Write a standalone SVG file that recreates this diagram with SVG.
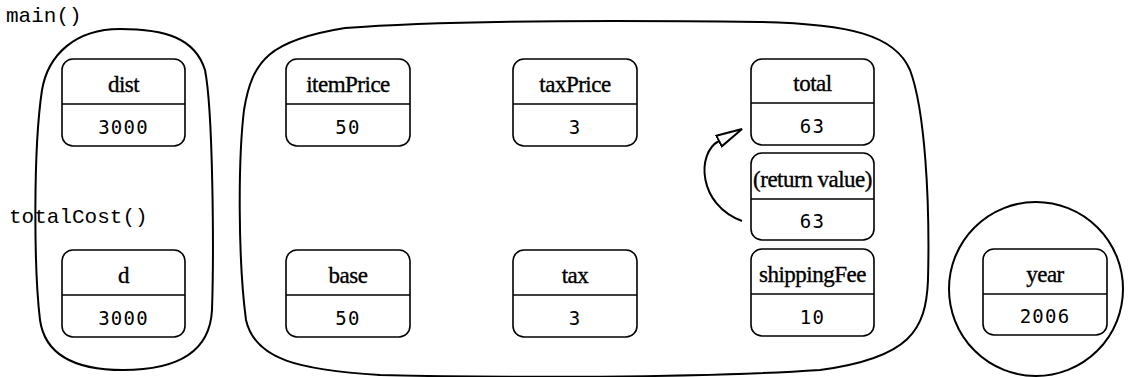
<svg xmlns="http://www.w3.org/2000/svg" width="1128" height="377" viewBox="0 0 1128 377">
  <style>
    .frame { fill: none; stroke: #000; stroke-width: 2; }
    .box { fill: #fff; stroke: #000; stroke-width: 1.6; }
    .div { stroke: #000; stroke-width: 1.6; }
    .name { font-family: "Liberation Serif", "Times New Roman", serif; font-size: 23px; text-anchor: middle; fill: #000; stroke: #000; stroke-width: 0.35px; letter-spacing: -0.5px; }
    .val { font-family: "DejaVu Sans Mono", monospace; font-size: 19px; text-anchor: middle; fill: #000; letter-spacing: 1.2px; }
    .fn { font-family: "Liberation Mono", "Courier New", monospace; font-size: 21px; fill: #000; }
    .conn { fill: none; stroke: #000; stroke-width: 2; }
  </style>
  <defs>
    <marker id="open-tri" viewBox="0 0 28 14" refX="1" refY="7" markerWidth="28" markerHeight="14" markerUnits="userSpaceOnUse" orient="auto">
      <path d="M1,1 L27,7 L1,13 Z" fill="#fff" stroke="#000" stroke-width="2" stroke-linejoin="miter"/>
    </marker>
  </defs>
  <rect width="1128" height="377" fill="#fff"/>

  <!-- scope outlines -->
  <g id="scope-main">
    <path class="frame" d="M 120 29 C 165 29 195 38 205 70 C 213 110 214 250 212 310 C 210 350 180 370 123 370 C 75 370 45 355 40 320 C 34 270 33 150 42 90 C 48 55 75 29 120 29 Z"/>
  </g>
  <g id="scope-totalCost">
    <path class="frame" d="M 345 28 C 450 20 600 20 760 22 C 850 24 895 35 910 70 C 925 110 930 200 928 280 C 926 330 910 358 820 370 C 700 378 500 378 380 375 C 300 370 255 360 246 320 C 238 260 238 160 244 110 C 252 60 270 40 345 28 Z"/>
  </g>
  <g id="scope-global">
    <circle class="frame" cx="1036" cy="289" r="87"/>
  </g>

  <!-- function labels -->
  <text class="fn" x="6" y="22">main()</text>
  <text class="fn" x="9" y="223">totalCost()</text>

  <!-- variables -->
  <g id="var-dist">
    <rect class="box" x="62" y="59" width="123" height="87" rx="11"/>
    <line class="div" x1="62" y1="104" x2="185" y2="104"/>
    <text class="name" x="123.5" y="92">dist</text>
    <text class="val" x="123.5" y="134">3000</text>
  </g>
  <g id="var-d">
    <rect class="box" x="62" y="250" width="123" height="87" rx="11"/>
    <line class="div" x1="62" y1="295" x2="185" y2="295"/>
    <text class="name" x="123.5" y="283">d</text>
    <text class="val" x="123.5" y="325">3000</text>
  </g>
  <g id="var-itemPrice">
    <rect class="box" x="286" y="59" width="124" height="87" rx="11"/>
    <line class="div" x1="286" y1="104" x2="410" y2="104"/>
    <text class="name" x="348" y="92">itemPrice</text>
    <text class="val" x="348" y="134">50</text>
  </g>
  <g id="var-base">
    <rect class="box" x="286" y="250" width="124" height="87" rx="11"/>
    <line class="div" x1="286" y1="295" x2="410" y2="295"/>
    <text class="name" x="348" y="283">base</text>
    <text class="val" x="348" y="325">50</text>
  </g>
  <g id="var-taxPrice">
    <rect class="box" x="513" y="59" width="124" height="87" rx="11"/>
    <line class="div" x1="513" y1="104" x2="637" y2="104"/>
    <text class="name" x="575" y="92">taxPrice</text>
    <text class="val" x="575" y="134">3</text>
  </g>
  <g id="var-tax">
    <rect class="box" x="513" y="250" width="124" height="87" rx="11"/>
    <line class="div" x1="513" y1="295" x2="637" y2="295"/>
    <text class="name" x="575" y="283">tax</text>
    <text class="val" x="575" y="325">3</text>
  </g>
  <g id="var-total">
    <rect class="box" x="751" y="59" width="123" height="86" rx="11"/>
    <line class="div" x1="751" y1="103" x2="874" y2="103"/>
    <text class="name" x="812.5" y="91">total</text>
    <text class="val" x="812.5" y="133">63</text>
  </g>
  <g id="var-return">
    <rect class="box" x="751" y="153" width="123" height="87" rx="11"/>
    <line class="div" x1="751" y1="199" x2="874" y2="199"/>
    <text class="name" x="812.5" y="187">(return value)</text>
    <text class="val" x="812.5" y="228">63</text>
  </g>
  <g id="var-shippingFee">
    <rect class="box" x="751" y="249" width="123" height="87" rx="11"/>
    <line class="div" x1="751" y1="294" x2="874" y2="294"/>
    <text class="name" x="812.5" y="282">shippingFee</text>
    <text class="val" x="812.5" y="324">10</text>
  </g>
  <g id="var-year">
    <rect class="box" x="983" y="249" width="124" height="86" rx="11"/>
    <line class="div" x1="983" y1="294" x2="1107" y2="294"/>
    <text class="name" x="1045" y="282">year</text>
    <text class="val" x="1045" y="323">2006</text>
  </g>

  <!-- return value copied into total -->
  <g id="connectors">
    <path class="conn" d="M 742 221 C 698 205 696 153 719 141" marker-end="url(#open-tri)"/>
  </g>
</svg>
